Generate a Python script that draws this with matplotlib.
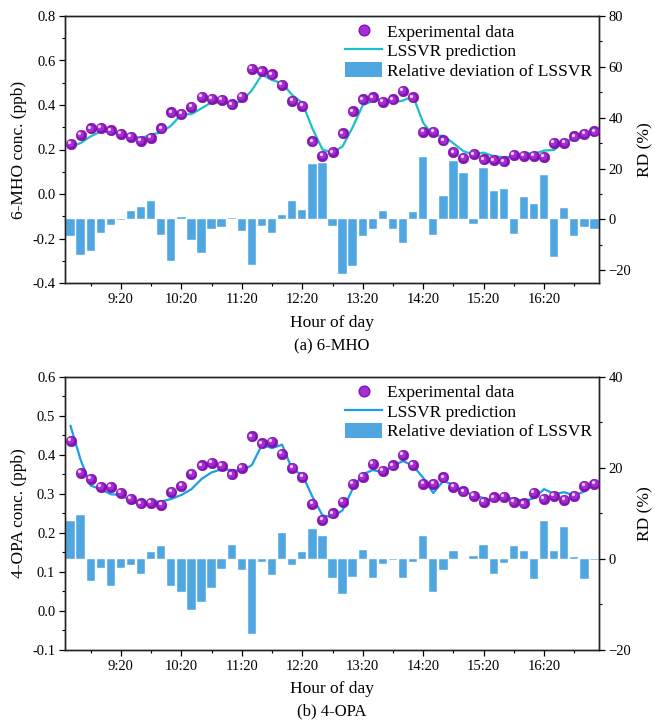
import matplotlib
matplotlib.use("Agg")
import matplotlib.pyplot as plt
import matplotlib.transforms as mtransforms
from matplotlib.ticker import MultipleLocator, FuncFormatter
from matplotlib.lines import Line2D
from matplotlib.patches import Patch

plt.rcParams['font.family'] = ['Liberation Serif', 'DejaVu Serif']

# ---------------- data ----------------
times = ["8:30", "8:40", "8:50", "9:00", "9:10", "9:20", "9:30", "9:40", "9:50",
         "10:00", "10:10", "10:20", "10:30", "10:40", "10:50", "11:00", "11:10", "11:20",
         "11:30", "11:40", "11:50", "12:00", "12:10", "12:20", "12:30", "12:40", "12:50",
         "13:00", "13:10", "13:20", "13:30", "13:40", "13:50", "14:00", "14:10", "14:20",
         "14:30", "14:40", "14:50", "15:00", "15:10", "15:20", "15:30", "15:40", "15:50",
         "16:00", "16:10", "16:20", "16:30", "16:40", "16:50", "17:00", "17:10"]

mho_exp = [0.226, 0.266, 0.295, 0.296, 0.286, 0.271, 0.256, 0.239, 0.251, 0.295,
           0.367, 0.359, 0.391, 0.436, 0.429, 0.423, 0.403, 0.436, 0.564, 0.552,
           0.538, 0.492, 0.418, 0.397, 0.236, 0.171, 0.188, 0.272, 0.371, 0.426,
           0.435, 0.415, 0.426, 0.463, 0.435, 0.280, 0.280, 0.241, 0.188, 0.162,
           0.179, 0.156, 0.152, 0.147, 0.176, 0.171, 0.171, 0.168, 0.229, 0.229,
           0.259, 0.269, 0.281]
mho_pred = [0.212, 0.229, 0.259, 0.281, 0.280, 0.270, 0.264, 0.250, 0.268, 0.276,
            0.308, 0.358, 0.359, 0.385, 0.412, 0.410, 0.405, 0.417, 0.466, 0.537,
            0.512, 0.498, 0.445, 0.410, 0.295, 0.200, 0.185, 0.214, 0.300, 0.399,
            0.418, 0.426, 0.412, 0.420, 0.440, 0.320, 0.262, 0.262, 0.228, 0.192,
            0.178, 0.186, 0.170, 0.165, 0.168, 0.185, 0.181, 0.195, 0.198, 0.238,
            0.244, 0.261, 0.272]
mho_rd = [-6.4, -14.0, -12.3, -5.2, -2.1, -0.3, 3.3, 4.8, 7.4, -6.3,
          -16.2, 0.8, -8.1, -13.3, -3.9, -3.1, 0.5, -4.4, -17.8, -2.4,
          -5.2, 1.7, 7.4, 3.8, 21.7, 22.1, -2.5, -21.4, -18.4, -6.4,
          -3.8, 3.3, -3.8, -9.4, 3.1, 24.6, -6.3, 9.3, 23.0, 18.3,
          -1.8, 20.3, 11.1, 12.0, -5.8, 8.9, 5.9, 17.3, -14.6, 4.4,
          -6.5, -2.9, -3.8]

opa_exp = [0.436, 0.353, 0.338, 0.318, 0.318, 0.303, 0.287, 0.276, 0.277, 0.272,
           0.305, 0.320, 0.352, 0.373, 0.379, 0.372, 0.350, 0.367, 0.447, 0.429,
           0.433, 0.403, 0.367, 0.344, 0.275, 0.233, 0.250, 0.279, 0.326, 0.343,
           0.377, 0.359, 0.373, 0.400, 0.374, 0.325, 0.325, 0.342, 0.318, 0.306,
           0.295, 0.280, 0.291, 0.293, 0.280, 0.276, 0.302, 0.288, 0.295, 0.284,
           0.295, 0.320, 0.326]
opa_pred = [0.474, 0.387, 0.321, 0.312, 0.299, 0.297, 0.283, 0.270, 0.281, 0.280,
            0.287, 0.297, 0.312, 0.338, 0.355, 0.363, 0.361, 0.358, 0.374, 0.426,
            0.417, 0.426, 0.362, 0.349, 0.293, 0.245, 0.240, 0.258, 0.313, 0.350,
            0.361, 0.355, 0.372, 0.384, 0.372, 0.341, 0.302, 0.333, 0.323, 0.306,
            0.297, 0.289, 0.281, 0.290, 0.288, 0.281, 0.289, 0.312, 0.300, 0.304,
            0.296, 0.306, 0.325]
opa_rd = [8.4, 9.6, -4.9, -1.9, -5.9, -1.9, -1.4, -3.4, 1.5, 2.8,
          -6.0, -7.2, -11.3, -9.5, -6.3, -2.3, 3.1, -2.5, -16.4, -0.6,
          -3.6, 5.7, -1.3, 1.5, 6.6, 5.0, -4.1, -7.6, -3.9, 2.0,
          -4.2, -1.2, -0.3, -4.1, -0.6, 5.0, -7.2, -2.5, 1.7, -0.1,
          0.6, 3.1, -3.3, -1.0, 2.9, 1.7, -4.4, 8.4, 1.7, 7.1,
          0.4, -4.5, -0.3]

tick_labels = ["9:20", "10:20", "11:20", "12:20", "13:20", "14:20", "15:20", "16:20"]

legend_labels = ["Experimental data", "LSSVR prediction", "Relative deviation of LSSVR"]

# ---------------- helpers ----------------
def to_min(s):
    h, m = s.split(":")
    return int(h) * 60 + int(m)

x = [to_min(t) for t in times]
tick_pos = [to_min(t) for t in tick_labels]

W, H = 655, 721
fig = plt.figure(figsize=(W / 100, H / 100), dpi=100)

bar_color = "#4fa6e0"
pt_dark = "#8512b4"
pt_mid = "#a52ed2"
pt_light = "#f0d0fb"


def sphere(ax, xs, ys, size=7.7):
    ax.plot(xs, ys, 'o', ms=size, color=pt_dark, mec='#6e0c96', mew=0.3, zorder=5, ls='none')
    t1 = mtransforms.offset_copy(ax.transData, fig=fig, x=-0.5, y=0.5, units='points')
    ax.plot(xs, ys, 'o', ms=size * 0.68, color=pt_mid, mew=0, zorder=6, ls='none', transform=t1)
    t2 = mtransforms.offset_copy(ax.transData, fig=fig, x=-1.2, y=1.2, units='points')
    ax.plot(xs, ys, 'o', ms=size * 0.3, color=pt_light, mew=0, zorder=7, ls='none', transform=t2)


def panel(rect, exp, pred, rd, line_color, ylim, ymaj, ymin, rlim, rticks,
          ylabel, caption, cap_y, xlab_y):
    ax = fig.add_axes(rect)
    ax2 = ax.twinx()
    ax.set_zorder(ax2.get_zorder() + 1)
    ax.patch.set_visible(False)

    ax2.bar(x, rd, width=8.3, color=bar_color, edgecolor='white', linewidth=0.3, zorder=2)
    ax.plot(x, pred, '-', color=line_color, lw=1.6, zorder=4)
    sphere(ax, x, exp)

    ax.set_xlim(504.5, 1034.5)
    ax.set_ylim(*ylim)
    ax2.set_ylim(*rlim)
    ax.yaxis.set_major_locator(MultipleLocator(ymaj))
    ax.yaxis.set_minor_locator(MultipleLocator(ymin))
    ax.yaxis.set_major_formatter(FuncFormatter(lambda v, p: "%.1f" % v))
    ax2.set_yticks(rticks)
    ax2.yaxis.set_minor_locator(MultipleLocator(10))
    ax.set_xticks(tick_pos)
    ax.set_xticklabels(tick_labels)
    ax.set_xticks([p - 30 for p in tick_pos] + [tick_pos[-1] + 30], minor=True)

    for a in (ax, ax2):
        a.tick_params(which='major', direction='out', length=4.5, width=0.9, labelsize=10.5, pad=2.5)
        a.tick_params(which='minor', direction='out', length=2.5, width=0.8)
        for sp in a.spines.values():
            sp.set_linewidth(1.0)
            sp.set_color('#222222')
    ax.tick_params(axis='x', which='both', top=False)
    ax2.tick_params(axis='x', which='both', top=False, bottom=False)

    ax.set_ylabel(ylabel, fontsize=12.5, labelpad=4)
    ax2.set_ylabel("RD (%)", fontsize=12.5, labelpad=4)

    handles = [Line2D([], [], ls='none', marker='o', ms=7.7, color=pt_mid, mec=pt_dark),
               Line2D([], [], color=line_color, lw=1.6),
               Patch(facecolor=bar_color, edgecolor='none')]
    ax.legend(handles, legend_labels, loc='upper right', frameon=False, fontsize=12.5,
              handlelength=2.1, handleheight=1.0, handletextpad=0.3, labelspacing=0.1,
              borderaxespad=0.2, borderpad=0.2, bbox_to_anchor=(1.0, 1.0))

    cx = rect[0] + rect[2] / 2
    fig.text(cx, 1 - xlab_y / H, "Hour of day", ha='center', va='center', fontsize=12.5)
    fig.text(cx, 1 - cap_y / H, caption, ha='center', va='center', fontsize=12)
    return ax, ax2


panel([65 / W, 1 - 283 / H, 534 / W, 267 / H], mho_exp, mho_pred, mho_rd, "#1cc0c4",
      (-0.4, 0.8), 0.2, 0.1, (-25, 80), [-20, 0, 20, 40, 60, 80],
      "6-MHO conc. (ppb)", "(a) 6-MHO", 346, 323)
panel([65 / W, 1 - 650 / H, 534 / W, 273.3 / H], opa_exp, opa_pred, opa_rd, "#1a9fe8",
      (-0.1, 0.6), 0.1, 0.05, (-20, 40), [-20, 0, 20, 40],
      "4-OPA conc. (ppb)", "(b) 4-OPA", 711, 689)

fig.savefig("out.png", dpi=100)
